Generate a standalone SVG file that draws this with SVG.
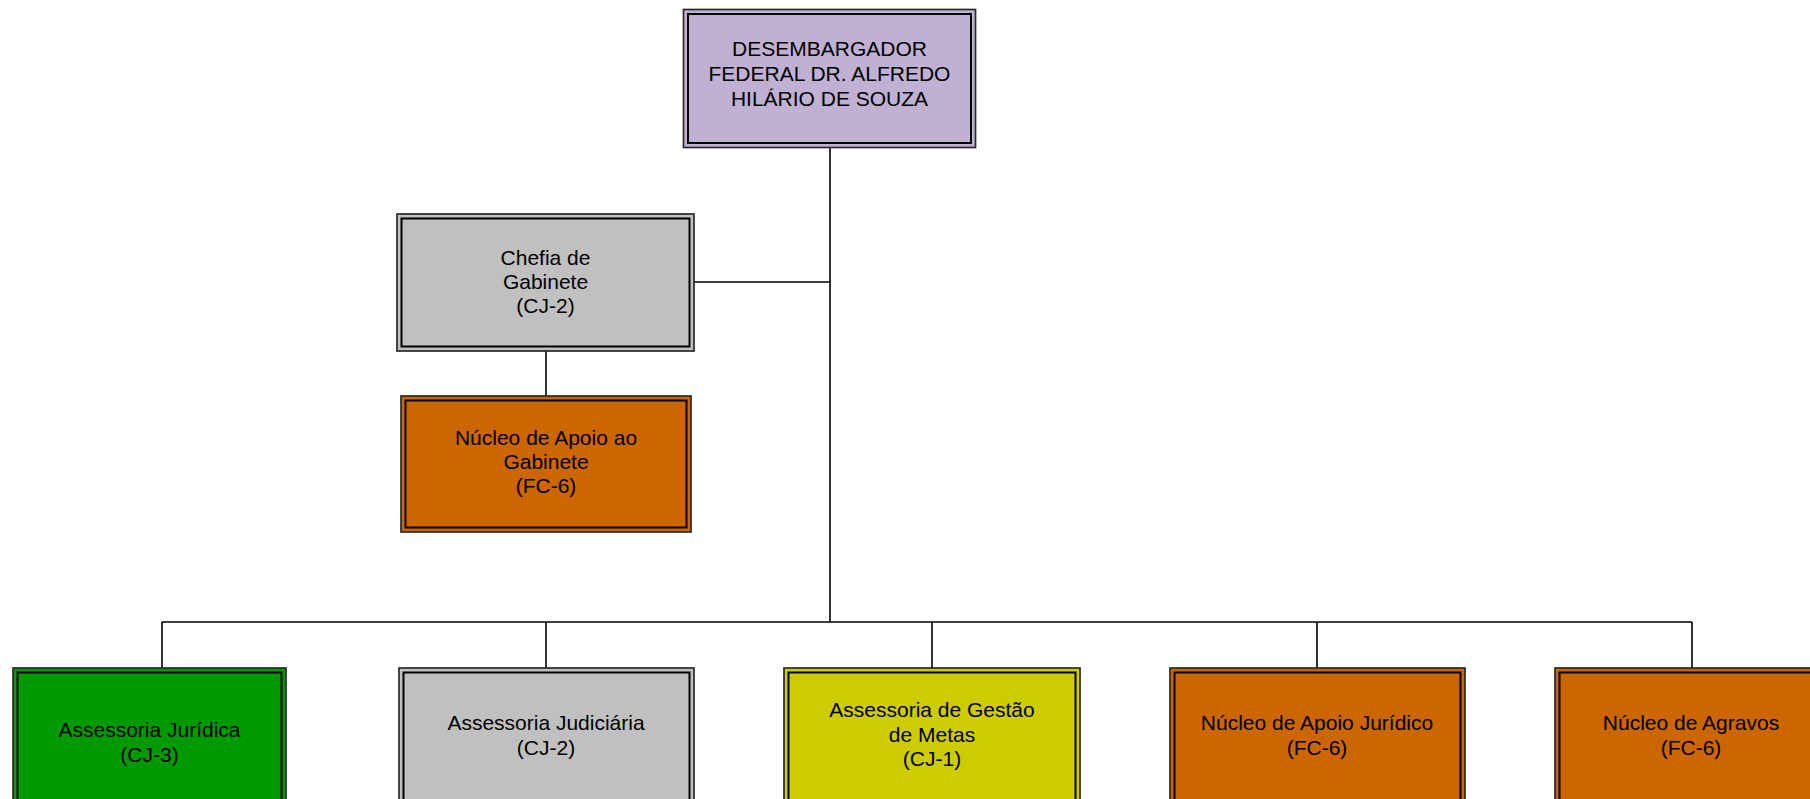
<svg xmlns="http://www.w3.org/2000/svg" width="1810" height="799" viewBox="0 0 1810 799">
<style>
.o{stroke:#2a2a2a;stroke-width:1.7}
.i{fill:none;stroke:#000;stroke-width:2}
.t{font-family:"Liberation Sans",Arial,sans-serif;font-size:21px;fill:#000;text-anchor:middle}
.c{stroke:#000;stroke-width:1.6;fill:none}
</style>
<rect width="1810" height="799" fill="#fff"/>
<g id="connectors">
<path class="c" d="M830 147V622M694 282H830M546 351V396M162 622H1692M162 622V668M546 622V668M932 622V668M1317 622V668M1692 622V668"/>
</g>
<g id="n-desembargador">
<rect class="o" x="683.5" y="9.5" width="292" height="138" fill="#C0B0D2"/>
<rect class="i" x="688" y="14" width="283" height="129"/>
<text class="t" x="829.5" y="56">DESEMBARGADOR</text>
<text class="t" x="829.5" y="81">FEDERAL DR. ALFREDO</text>
<text class="t" x="829.5" y="106">HILÁRIO DE SOUZA</text>
</g>
<g id="n-chefia">
<rect class="o" x="397" y="214" width="297" height="137" fill="#C0C0C0"/>
<rect class="i" x="401.5" y="218.5" width="288" height="128"/>
<text class="t" x="545.5" y="265">Chefia de</text>
<text class="t" x="545.5" y="289">Gabinete</text>
<text class="t" x="545.5" y="313">(CJ-2)</text>
</g>
<g id="n-nucleo-gabinete">
<rect class="o" x="401" y="396" width="290" height="136" fill="#CC6600"/>
<rect class="i" x="405.5" y="400.5" width="281" height="127"/>
<text class="t" x="546" y="445">Núcleo de Apoio ao</text>
<text class="t" x="546" y="469">Gabinete</text>
<text class="t" x="546" y="493">(FC-6)</text>
</g>
<g id="n-assessoria-juridica">
<rect class="o" x="13" y="668" width="273" height="145" fill="#009900"/>
<rect class="i" x="17.5" y="672.5" width="264" height="136"/>
<text class="t" x="149.5" y="737">Assessoria Jurídica</text>
<text class="t" x="149.5" y="762">(CJ-3)</text>
</g>
<g id="n-assessoria-judiciaria">
<rect class="o" x="399" y="668" width="295" height="145" fill="#C0C0C0"/>
<rect class="i" x="403.5" y="672.5" width="286" height="136"/>
<text class="t" x="546" y="730">Assessoria Judiciária</text>
<text class="t" x="546" y="755">(CJ-2)</text>
</g>
<g id="n-gestao-metas">
<rect class="o" x="784" y="668" width="296" height="145" fill="#CCCC00"/>
<rect class="i" x="788.5" y="672.5" width="287" height="136"/>
<text class="t" x="932" y="717">Assessoria de Gestão</text>
<text class="t" x="932" y="742">de Metas</text>
<text class="t" x="932" y="766">(CJ-1)</text>
</g>
<g id="n-apoio-juridico">
<rect class="o" x="1170" y="668" width="295" height="145" fill="#CC6600"/>
<rect class="i" x="1174.5" y="672.5" width="286" height="136"/>
<text class="t" x="1317" y="730">Núcleo de Apoio Jurídico</text>
<text class="t" x="1317" y="755">(FC-6)</text>
</g>
<g id="n-agravos">
<rect class="o" x="1555" y="668" width="295" height="145" fill="#CC6600"/>
<rect class="i" x="1559.5" y="672.5" width="286" height="136"/>
<text class="t" x="1691" y="730">Núcleo de Agravos</text>
<text class="t" x="1691" y="755">(FC-6)</text>
</g>
</svg>
